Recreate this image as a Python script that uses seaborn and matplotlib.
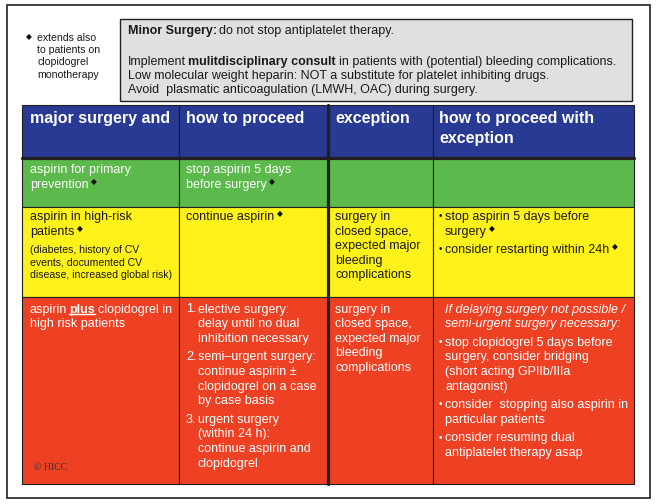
import re
import matplotlib
matplotlib.use("Agg")
import matplotlib.pyplot as plt
from matplotlib.patches import Rectangle
import seaborn as sns

# Content ------------------------------------------------------------------
note_lines = ["extends also", "to patients on", "clopidogrel", "monotherapy"]

box_lines = ["**Minor Surgery:** do not stop antiplatelet therapy.",
             "",
             "Implement **mulitdisciplinary consult** in patients with (potential) bleeding complications.",
             "Low molecular weight heparin: NOT a substitute for platelet inhibiting drugs.",
             "Avoid  plasmatic anticoagulation (LMWH, OAC) during surgery."]

header_labels = [["major surgery and"], ["how to proceed"], ["exception"],
                 ["how to proceed with", "exception"]]

# each cell: list of paragraphs -> (marker, lines)
green_cells = [
    [("", ["aspirin for primary", "prevention ◆"])],
    [("", ["stop aspirin 5 days", "before surgery ◆"])],
    [],
    [],
]
yellow_cells = [
    [("", ["aspirin in high-risk", "patients ◆"])],
    [("", ["continue aspirin ◆"])],
    [("", ["surgery in", "closed space,", "expected major", "bleeding", "complications"])],
    [("•", ["stop aspirin 5 days before", "surgery ◆"]),
     ("•", ["consider restarting within 24h ◆"])],
]
yellow_note = ["(diabetes, history of CV", "events, documented CV",
               "disease, increased global risk)"]
red_cells = [
    [("", ["aspirin __plus__ clopidogrel in", "high risk patients"])],
    [("1.", ["elective surgery:", "delay until no dual", "inhibition necessary"]),
     ("2.", ["semi–urgent surgery:", "continue aspirin ±", "clopidogrel on a case", "by case basis"]),
     ("3.", ["urgent surgery", "(within 24 h):", "continue aspirin and", "clopidogrel"])],
    [("", ["surgery in", "closed space,", "expected major", "bleeding", "complications"])],
    [("italic", ["If delaying surgery not possible /", "semi-urgent surgery necessary:"]),
     ("•", ["stop clopidogrel 5 days before", "surgery, consider bridging",
            "(short acting GPIIb/IIIa", "antagonist)"]),
     ("•", ["consider  stopping also aspirin in", "particular patients"]),
     ("•", ["consider resuming dual", "antiplatelet therapy asap"])],
]
body_rows = [green_cells, yellow_cells, red_cells]

header_color = "#283a93"
row_palette = sns.color_palette(["#5cb94b", "#fff11a", "#ee4124"])
row_text = ["white", "#1a1a1a", "white"]

# Layout (pixels) ------------------------------------------------------------
col_edges = [22, 179, 328, 433, 634]
row_edges = [105, 157.5, 207, 297, 484]
text_x = [30, 186, 335, 439]
row_text_y = [170, 217, 309.5]
LINE_H = 14.6
PARA_GAP = 4.0
EDGE = "#231f20"

sns.set_theme(style="white")
plt.rcParams["font.family"] = ["Liberation Sans", "DejaVu Sans"]

fig = plt.figure(figsize=(6.57, 5.04), dpi=100)
ax = fig.add_axes([0, 0, 1, 1])
ax.set_xlim(0, 657)
ax.set_ylim(504, 0)
ax.axis("off")

TOKEN = re.compile(r"(\*\*.+?\*\*|__.+?__|◆)")


def draw_line(x, y, line, color, size=9, style="normal"):
    pieces = [p for p in TOKEN.split(line) if p]
    prev = None
    spaced = False
    marks = []
    for p in pieces:
        if p == "◆":
            kind, txt = "diamond", p
        elif p.startswith("**"):
            kind, txt = "bold", p[2:-2]
        elif p.startswith("__"):
            kind, txt = "under", p[2:-2]
        else:
            kind, txt = "plain", p
        if txt[:1] == " ":
            spaced = True
        core = txt.strip()
        if not core:
            spaced = True
            continue
        kw = dict(color=color, fontsize=size, fontstyle=style)
        if kind in ("bold", "under"):
            kw["fontweight"] = "bold"
        if kind == "diamond":
            kw.update(color="#111111", fontsize=5.5, family=["DejaVu Sans"])
        if prev is None:
            t = ax.text(x, y, core, va="center", ha="left", **kw)
            first = True
        else:
            # the first text's extent runs a little wider than an annotation's
            dx = (1.1 if first else 2.6) if spaced else 0
            if kind == "diamond":
                dx = 1.8
            yfrac = 0.4 if kind == "diamond" else 0
            t = ax.annotate(core, xy=(1, yfrac), xycoords=prev, xytext=(dx, 0),
                            textcoords="offset points", va="bottom", ha="left", **kw)
            first = False
        spaced = txt[-1:] == " "
        prev = t
        if kind == "under":
            marks.append((t, color))
    return marks


def draw_cell(x, y, paragraphs, color):
    marks = []
    for marker, lines in paragraphs:
        style, indent = "normal", 0
        if marker == "•":
            ax.text(x + 1.5, y - 0.8, "•", fontsize=7, color=color,
                    ha="center", va="center")
            indent = 6
        elif marker == "italic":
            style, indent = "italic", 6
        elif marker:
            ax.text(x, y, marker, fontsize=9, color=color, va="center")
            indent = 12
        for line in lines:
            marks += draw_line(x + indent, y, line, color, style=style)
            y += LINE_H
        y += PARA_GAP
    return marks


# Outer frame and note box ---------------------------------------------------
ax.add_patch(Rectangle((7, 5), 643, 493, fill=False, edgecolor=EDGE, lw=1.2))
ax.add_patch(Rectangle((119.5, 19), 512.5, 82, facecolor="#e0e0e0",
                       edgecolor=EDGE, lw=1.0))

ax.text(29, 37, "◆", fontsize=5.5, color="#111111", family=["DejaVu Sans"],
        ha="center", va="center")
for i, s in enumerate(note_lines):
    ax.text(37, 38 + i * 12.2, s, fontsize=7.6, color="#1a1a1a", va="center")

box_y = [31, 46, 61.5, 75.8, 90]
for s, yy in zip(box_lines, box_y):
    if s:
        draw_line(128, yy, s, "#1a1a1a")

# Table cells ------------------------------------------------------------------
fills = [header_color] + list(row_palette)
for r in range(4):
    for c in range(4):
        ax.add_patch(Rectangle((col_edges[c], row_edges[r]),
                               col_edges[c + 1] - col_edges[c],
                               row_edges[r + 1] - row_edges[r],
                               facecolor=fills[r], edgecolor=EDGE, lw=0.8))
ax.plot([col_edges[0], col_edges[-1]], [row_edges[1], row_edges[1]], color=EDGE, lw=2.3)
ax.plot([col_edges[2], col_edges[2]], [row_edges[0], row_edges[-1]], color=EDGE, lw=2.3)

for c, lab in enumerate(header_labels):
    for k, s in enumerate(lab):
        ax.text(text_x[c], 119 + k * 20, s, fontsize=11.5, fontweight="bold",
                color="white", va="center")

underlines = []
for r, cells in enumerate(body_rows):
    for c, paras in enumerate(cells):
        underlines += draw_cell(text_x[c], row_text_y[r], paras, row_text[r])

for i, s in enumerate(yellow_note):
    ax.text(text_x[0], 250 + i * 12.5, s, fontsize=7.6, color="#1a1a1a", va="center")

ax.text(34, 468, "© HICC", fontsize=7, family=["Liberation Serif"],
        color="#3b2f2f", va="center")

# underline the emphasised words once positions are known
fig.canvas.draw()
inv = ax.transData.inverted()
for t, col in underlines:
    bb = t.get_window_extent()
    (x0, y0), (x1, y1) = inv.transform([[bb.x0, bb.y0], [bb.x1, bb.y1]])
    ax.plot([x0, x1], [y0 - 1.2, y0 - 1.2], color=col, lw=1.0)

fig.savefig("out.png", dpi=100, facecolor="white")
